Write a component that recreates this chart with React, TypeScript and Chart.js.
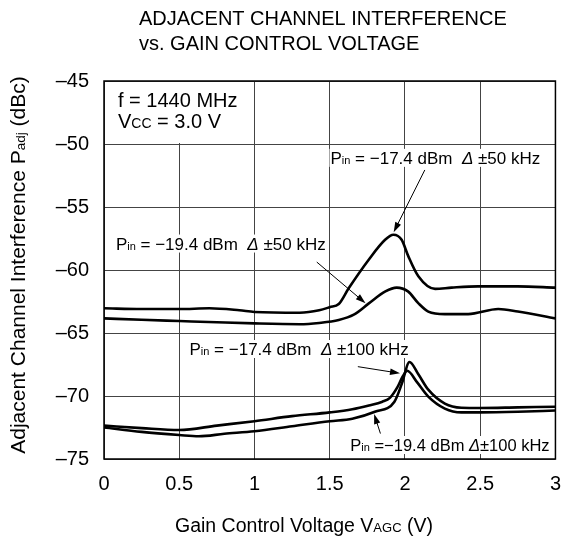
import React, { useEffect, useRef } from "react";
import { Chart, registerables } from "chart.js";

Chart.register(...registerables);

const FONT = "'Liberation Sans', Arial, Helvetica, sans-serif";

// Axis ticks
const xTickValues = [0, 0.5, 1, 1.5, 2, 2.5, 3];
const yTickValues = [-45, -50, -55, -60, -65, -70, -75];

// Pin = -17.4 dBm, Δ ±50 kHz
const v174_50 = [0, 0.25, 0.5, 0.7, 0.9, 1.0, 1.3, 1.43, 1.5, 1.56, 1.626, 1.758, 1.868, 1.923, 1.978, 2.022, 2.089, 2.2, 2.31, 2.485, 2.75, 3.0];
const p174_50 = [-63.04, -63.1, -63.1, -63.04, -63.2, -63.33, -63.39, -63.2, -62.95, -62.7, -61.45, -59.2, -57.6, -57.2, -57.6, -58.9, -60.5, -61.5, -61.4, -61.3, -61.3, -61.4];

// Pin = -19.4 dBm, Δ ±50 kHz
const v194_50 = [0, 0.25, 0.5, 0.75, 1.0, 1.3, 1.43, 1.56, 1.66, 1.76, 1.87, 1.945, 2.02, 2.09, 2.155, 2.265, 2.42, 2.62, 2.75, 3.0];
const p194_50 = [-63.84, -63.95, -64.05, -64.15, -64.24, -64.3, -64.2, -63.97, -63.55, -62.65, -61.7, -61.4, -61.7, -62.65, -63.3, -63.5, -63.5, -63.1, -63.3, -63.84];

// Pin = -17.4 dBm, Δ ±100 kHz
const v174_100 = [0, 0.25, 0.5, 0.75, 1.0, 1.25, 1.5, 1.65, 1.76, 1.85, 1.9, 1.95, 1.985, 2.015, 2.08, 2.155, 2.265, 2.375, 2.5, 2.75, 3.0];
const p174_100 = [-72.35, -72.55, -72.7, -72.35, -72.0, -71.6, -71.3, -71.05, -70.75, -70.45, -70.15, -69.3, -68.45, -68.0, -68.9, -70.05, -71.0, -71.3, -71.3, -71.25, -71.15];

// Pin = -19.4 dBm, Δ ±100 kHz
const v194_100 = [0, 0.25, 0.5, 0.63, 0.8, 1.0, 1.25, 1.5, 1.65, 1.8, 1.93, 1.98, 2.03, 2.09, 2.155, 2.265, 2.375, 2.5, 2.75, 3.0];
const p194_100 = [-72.5, -72.85, -73.1, -73.2, -73.0, -72.8, -72.4, -72.0, -71.8, -71.25, -70.45, -69.0, -67.3, -68.3, -69.5, -70.6, -70.93, -70.95, -70.9, -70.85];

const seriesX = [v174_50, v194_50, v174_100, v194_100];
const seriesY = [p174_50, p194_50, p174_100, p194_100];
const seriesNames = [
  "Pin = -17.4 dBm Δ ±50 kHz",
  "Pin = -19.4 dBm Δ ±50 kHz",
  "Pin = -17.4 dBm Δ ±100 kHz",
  "Pin = -19.4 dBm Δ ±100 kHz",
];

type Run = [string, number, boolean?];

// Annotation texts: [runs, data x (left), data y (center)]
const labelDefs: { runs: Run[]; x: number; y: number }[] = [
  { runs: [["P", 17], ["in", 11], [" = \u221217.4 dBm  ", 17], ["\u0394", 17, true], [" \u00b150 kHz", 17]], x: 1.505, y: -51.1 },
  { runs: [["P", 17], ["in", 11], [" = \u221219.4 dBm  ", 17], ["\u0394", 17, true], [" \u00b150 kHz", 17]], x: 0.079, y: -57.9 },
  { runs: [["P", 17], ["in", 11], [" = \u221217.4 dBm  ", 17], ["\u0394", 17, true], [" \u00b1100 kHz", 17]], x: 0.568, y: -66.27 },
  { runs: [["P", 16.5], ["in", 11], [" =\u221219.4 dBm ", 16.5], ["\u0394", 16.5, true], ["\u00b1100 kHz", 16.5]], x: 1.637, y: -73.89 },
];

// Arrows in data coordinates: from (x1,y1) to tip (x2,y2)
const arrowDefs = [
  { x1: 2.132, y1: -52.06, x2: 1.925, y2: -57.0 },
  { x1: 1.414, y1: -59.37, x2: 1.738, y2: -62.64 },
  { x1: 1.687, y1: -67.67, x2: 1.967, y2: -68.2 },
  { x1: 1.837, y1: -72.98, x2: 1.795, y2: -71.43 },
];

function fontOf(size: number, italic?: boolean) {
  return `${italic ? "italic " : ""}${size}px ${FONT}`;
}

function measureRuns(ctx: CanvasRenderingContext2D, runs: Run[]) {
  let w = 0;
  for (const [t, s, it] of runs) {
    ctx.font = fontOf(s, it);
    w += ctx.measureText(t).width;
  }
  return w;
}

function drawRuns(ctx: CanvasRenderingContext2D, runs: Run[], x: number, y: number) {
  let cx = x;
  ctx.textBaseline = "alphabetic";
  ctx.textAlign = "left";
  for (const [t, s, it] of runs) {
    ctx.font = fontOf(s, it);
    ctx.fillText(t, cx, y);
    cx += ctx.measureText(t).width;
  }
  return cx - x;
}

function drawArrow(ctx: CanvasRenderingContext2D, x1: number, y1: number, x2: number, y2: number) {
  const ang = Math.atan2(y2 - y1, x2 - x1);
  const len = 10;
  const half = 3.2;
  ctx.save();
  ctx.strokeStyle = "#000";
  ctx.fillStyle = "#000";
  ctx.lineWidth = 1;
  ctx.beginPath();
  ctx.moveTo(x1, y1);
  ctx.lineTo(x2 - Math.cos(ang) * len * 0.8, y2 - Math.sin(ang) * len * 0.8);
  ctx.stroke();
  ctx.beginPath();
  ctx.moveTo(x2, y2);
  ctx.lineTo(x2 - Math.cos(ang) * len - Math.sin(ang) * half, y2 - Math.sin(ang) * len + Math.cos(ang) * half);
  ctx.lineTo(x2 - Math.cos(ang) * len + Math.sin(ang) * half, y2 - Math.sin(ang) * len - Math.cos(ang) * half);
  ctx.closePath();
  ctx.fill();
  ctx.restore();
}

const decorPlugin = {
  id: "decor",
  beforeDatasetsDraw(chart: any) {
    const ctx: CanvasRenderingContext2D = chart.ctx;
    const xs = chart.scales.x;
    const ys = chart.scales.y;
    // condition box (top-left cell)
    const bx1 = xs.getPixelForValue(0);
    const bx2 = xs.getPixelForValue(1);
    const by1 = ys.getPixelForValue(-45);
    const by2 = ys.getPixelForValue(-50);
    ctx.save();
    ctx.fillStyle = "#fff";
    ctx.fillRect(bx1 + 1, by1 + 1, bx2 - bx1 - 2, by2 - by1 - 2);
    ctx.fillStyle = "#000";
    const tx = xs.getPixelForValue(0.093);
    drawRuns(ctx, [["f = 1440 MHz", 20]], tx, ys.getPixelForValue(-46.5) + 7);
    drawRuns(ctx, [["V", 20], ["CC", 14], [" = 3.0 V", 20]], tx, ys.getPixelForValue(-48.2) + 7);
    ctx.restore();
  },
  afterDatasetsDraw(chart: any) {
    const ctx: CanvasRenderingContext2D = chart.ctx;
    const xs = chart.scales.x;
    const ys = chart.scales.y;
    const area = chart.chartArea;
    ctx.save();
    // labels with white background
    for (const l of labelDefs) {
      const px = xs.getPixelForValue(l.x);
      const py = ys.getPixelForValue(l.y);
      const w = measureRuns(ctx, l.runs);
      ctx.fillStyle = "#fff";
      ctx.fillRect(px - 1, py - 9, w + 2, 18);
      ctx.fillStyle = "#000";
      drawRuns(ctx, l.runs, px, py + 6);
    }
    for (const a of arrowDefs) {
      drawArrow(
        ctx,
        xs.getPixelForValue(a.x1),
        ys.getPixelForValue(a.y1),
        xs.getPixelForValue(a.x2),
        ys.getPixelForValue(a.y2)
      );
    }
    // frame
    ctx.strokeStyle = "#000";
    ctx.lineWidth = 1.5;
    ctx.strokeRect(area.left, area.top, area.right - area.left, area.bottom - area.top);
    ctx.restore();
  },
  afterDraw(chart: any) {
    const ctx: CanvasRenderingContext2D = chart.ctx;
    ctx.save();
    ctx.fillStyle = "#000";
    // title
    drawRuns(ctx, [["ADJACENT CHANNEL INTERFERENCE", 20]], 139, 25);
    drawRuns(ctx, [["vs. GAIN CONTROL VOLTAGE", 20]], 139, 50);
    // x title
    const xr: Run[] = [["Gain Control Voltage V", 19.5], ["AGC", 13], [" (V)", 19.5]];
    drawRuns(ctx, xr, 175, 532);
    // y title
    const yr: Run[] = [["Adjacent Channel Interference P", 21], ["adj", 13.5], [" (dBc)", 21]];
    const yw = measureRuns(ctx, yr);
    ctx.translate(25, 265);
    ctx.rotate(-Math.PI / 2);
    drawRuns(ctx, yr, -yw / 2, 0);
    ctx.restore();
  },
};

export default function App() {
  const ref = useRef<HTMLCanvasElement | null>(null);
  useEffect(() => {
    if (!ref.current) return;
    const datasets = seriesX.map((xsArr, i) => ({
      label: seriesNames[i],
      data: xsArr.map((x, j) => ({ x, y: seriesY[i][j] })),
      borderColor: "#000",
      backgroundColor: "#000",
      borderWidth: 2.6,
      pointRadius: 0,
      fill: false,
      cubicInterpolationMode: "monotone" as const,
    }));
    const chart = new Chart(ref.current, {
      type: "line",
      data: { datasets },
      options: {
        responsive: false,
        animation: false,
        events: [],
        layout: { padding: { top: 81, right: 16, left: 0, bottom: 0 } },
        plugins: { legend: { display: false }, tooltip: { enabled: false }, title: { display: false } },
        scales: {
          x: {
            type: "linear",
            min: 0,
            max: 3,
            afterBuildTicks: (s: any) => {
              s.ticks = xTickValues.map((v) => ({ value: v }));
            },
            afterFit: (s: any) => {
              s.height = 83;
            },
            ticks: {
              color: "#000",
              font: { family: FONT, size: 20 },
              padding: 13,
              maxRotation: 0,
              autoSkip: false,
              callback: (v: any) => String(v),
            },
            grid: { color: "#444", lineWidth: 1, drawTicks: false },
            border: { display: false },
          },
          y: {
            type: "linear",
            min: -75,
            max: -45,
            afterBuildTicks: (s: any) => {
              s.ticks = yTickValues.map((v) => ({ value: v }));
            },
            afterFit: (s: any) => {
              s.width = 104;
            },
            ticks: {
              color: "#000",
              font: { family: FONT, size: 20 },
              padding: 15,
              autoSkip: false,
              callback: (v: any) => "\u2013" + String(Math.abs(v)),
            },
            grid: { color: "#444", lineWidth: 1, drawTicks: false },
            border: { display: false },
          },
        },
      },
      plugins: [decorPlugin],
    });
    return () => chart.destroy();
  }, []);
  return (
    <div style={{ position: "fixed", left: 0, top: 0, width: 574, height: 542, background: "#fff" }}>
      <canvas ref={ref} width={574} height={542} style={{ display: "block" }} />
    </div>
  );
}
